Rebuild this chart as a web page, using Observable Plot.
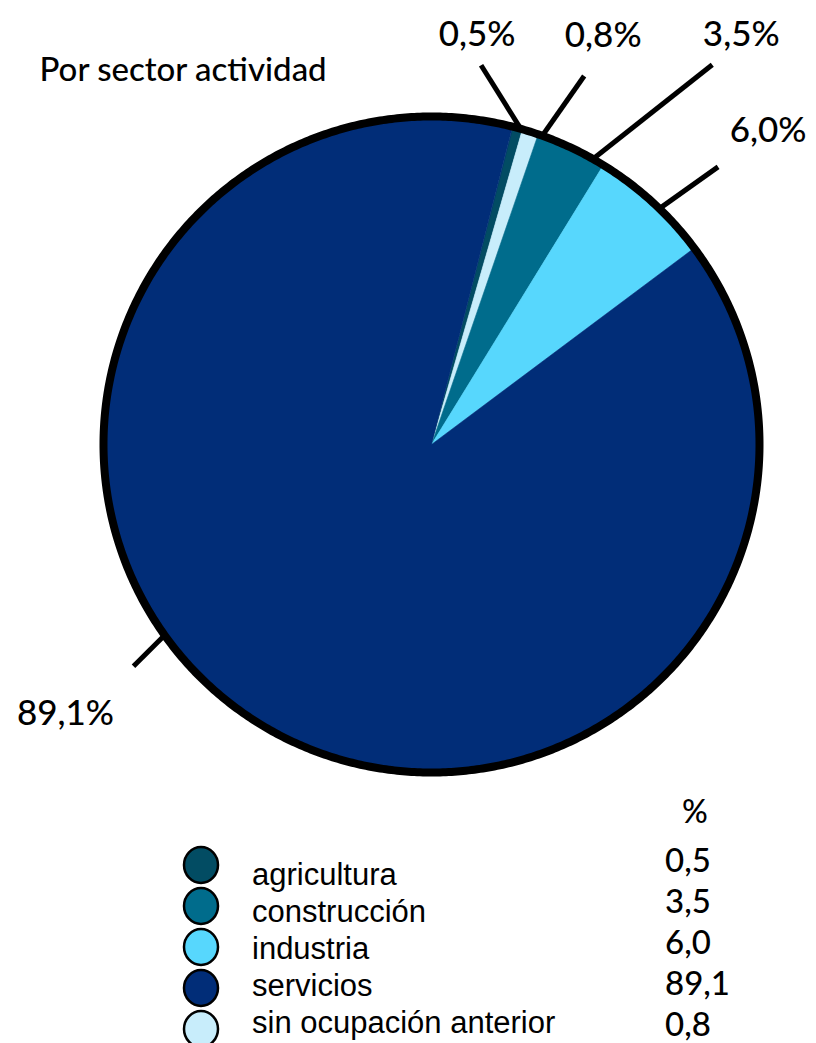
<!DOCTYPE html>
<html>
<head>
<meta charset="utf-8">
<script src="https://cdn.jsdelivr.net/npm/d3@7"></script>
<script src="https://cdn.jsdelivr.net/npm/@observablehq/plot@0.6"></script>
<style>
  body { margin: 0; background: #ffffff; }
  #chart { width: 816px; height: 1043px; overflow: hidden; background: #ffffff; }
  #chart svg { display: block; }
</style>
</head>
<body>
<div id="chart"></div>
<script>
// ---------- data ----------
const title = "Por sector actividad";
const categories = ["agricultura", "construcción", "industria", "servicios", "sin ocupación anterior"];
const values = [0.5, 3.5, 6.0, 89.1, 0.8];
const valueLabels = ["0,5", "3,5", "6,0", "89,1", "0,8"];
const sliceLabels = ["0,5%", "3,5%", "6,0%", "89,1%", "0,8%"];
const valueHeader = "%";
const pieOrder = ["agricultura", "sin ocupación anterior", "construcción", "industria", "servicios"];

// ---------- styles / layout ----------
const colors = ["#024c63", "#006c8c", "#57d7fd", "#012d78", "#c8edfb"];
const W = 816, H = 790, R = 328, CX = 431, CY = 444;
const startDeg = 14.3;
// leader line layout per category (shift of anchor in deg, direction in deg, length px, label offset px)
const leaderShift = [0.6, 4.2, 1.6, 20.7, 2.2];
const leaderDir = [122, 38.3, 35.4, 225, 55];
const leaderLen = [75, 152, 72, 44, 73];
const labelDx = [-4, 29, 50, -68, 19];
const labelDy = [-19, -19, -25, 59, -29];

// ---------- geometry from data ----------
const rad = d => d * Math.PI / 180;
const total = d3.sum(values);
const idx = name => categories.indexOf(name);
let acc = startDeg;
const slices = pieOrder.map(name => {
  const i = idx(name);
  const a0 = acc, a1 = acc + values[i] / total * 360;
  acc = a1;
  return {name, i, a0, a1, mid: (a0 + a1) / 2};
});

const slicePoints = slices.map(s => {
  const pts = [{x: 0, y: 0}];
  const n = Math.max(2, Math.ceil((s.a1 - s.a0) / 0.25));
  for (let k = 0; k <= n; k++) {
    const a = rad(s.a0 + (s.a1 - s.a0) * k / n);
    pts.push({x: Math.sin(a), y: Math.cos(a)});
  }
  return {s, pts};
});

const ring = d3.range(0, 360, 0.5).map(d => ({x: Math.sin(rad(d)), y: Math.cos(rad(d))}));

const leaders = slices.map(s => {
  const i = s.i;
  const am = rad(s.mid + leaderShift[i]);
  const x1 = Math.sin(am), y1 = Math.cos(am);
  const dir = rad(leaderDir[i]);
  const x2 = x1 + leaderLen[i] / R * Math.cos(dir);
  const y2 = y1 + leaderLen[i] / R * Math.sin(dir);
  return {x1, y1, x2, y2,
          lx: x2 + labelDx[i] / R, ly: y2 - labelDy[i] / R, text: sliceLabels[i]};
});

// ---------- pie chart ----------
const marks = [];
for (const {s, pts} of slicePoints) {
  marks.push(Plot.line(pts, {x: "x", y: "y", curve: "linear-closed",
    fill: colors[s.i], stroke: colors[s.i], strokeWidth: 0.6}));
}
marks.push(Plot.line(ring, {x: "x", y: "y", curve: "linear-closed", fill: "none",
  stroke: "#000", strokeWidth: 8}));
marks.push(Plot.link(leaders, {x1: "x1", y1: "y1", x2: "x2", y2: "y2",
  stroke: "#000", strokeWidth: 5}));
marks.push(Plot.text(leaders, {x: "lx", y: "ly", text: "text", textAnchor: "middle",
  lineAnchor: "bottom", fontSize: 35, fontWeight: 500, fill: "#000"}));
marks.push(Plot.text([title], {frameAnchor: "top-left", dx: 39, dy: 80, textAnchor: "start",
  lineAnchor: "bottom", fontSize: 33, fontWeight: 500, fill: "#000"}));

const chart = Plot.plot({
  width: W, height: H, margin: 0,
  x: {domain: [-CX / R, (W - CX) / R], axis: null},
  y: {domain: [(CY - H) / R, CY / R], axis: null},
  style: {fontFamily: "Lato, 'Open Sans', sans-serif", background: "#ffffff", overflow: "visible"},
  marks
});
document.getElementById("chart").appendChild(chart);

// ---------- legend (below the plot) ----------
const LH = 1043 - H;
const leg = d3.select("#chart").append("svg")
  .attr("width", W).attr("height", LH)
  .attr("viewBox", `0 0 ${W} ${LH}`);
const circleY0 = 865 - H, circleStep = 41;
const textY0 = 885 - H, textStep = 37;
const valY0 = 872 - H, valStep = 41;

leg.append("text").attr("x", 682).attr("y", 823 - H)
  .attr("font-family", "Lato, sans-serif").attr("font-size", 32).attr("font-weight", 500).text(valueHeader);

categories.forEach((c, i) => {
  leg.append("ellipse").attr("cx", 201).attr("cy", circleY0 + i * circleStep)
    .attr("rx", 17).attr("ry", 18)
    .attr("fill", colors[i]).attr("stroke", "#000").attr("stroke-width", 2.5);
  leg.append("text").attr("x", 252).attr("y", textY0 + i * textStep)
    .attr("font-family", "'Liberation Sans', Arial, sans-serif").attr("font-size", 31)
    .attr("fill", "#000").text(c);
  leg.append("text").attr("x", 665).attr("y", valY0 + i * valStep)
    .attr("font-family", "Lato, sans-serif").attr("font-size", 33).attr("font-weight", 500)
    .attr("fill", "#000").text(valueLabels[i]);
});
</script>
</body>
</html>
